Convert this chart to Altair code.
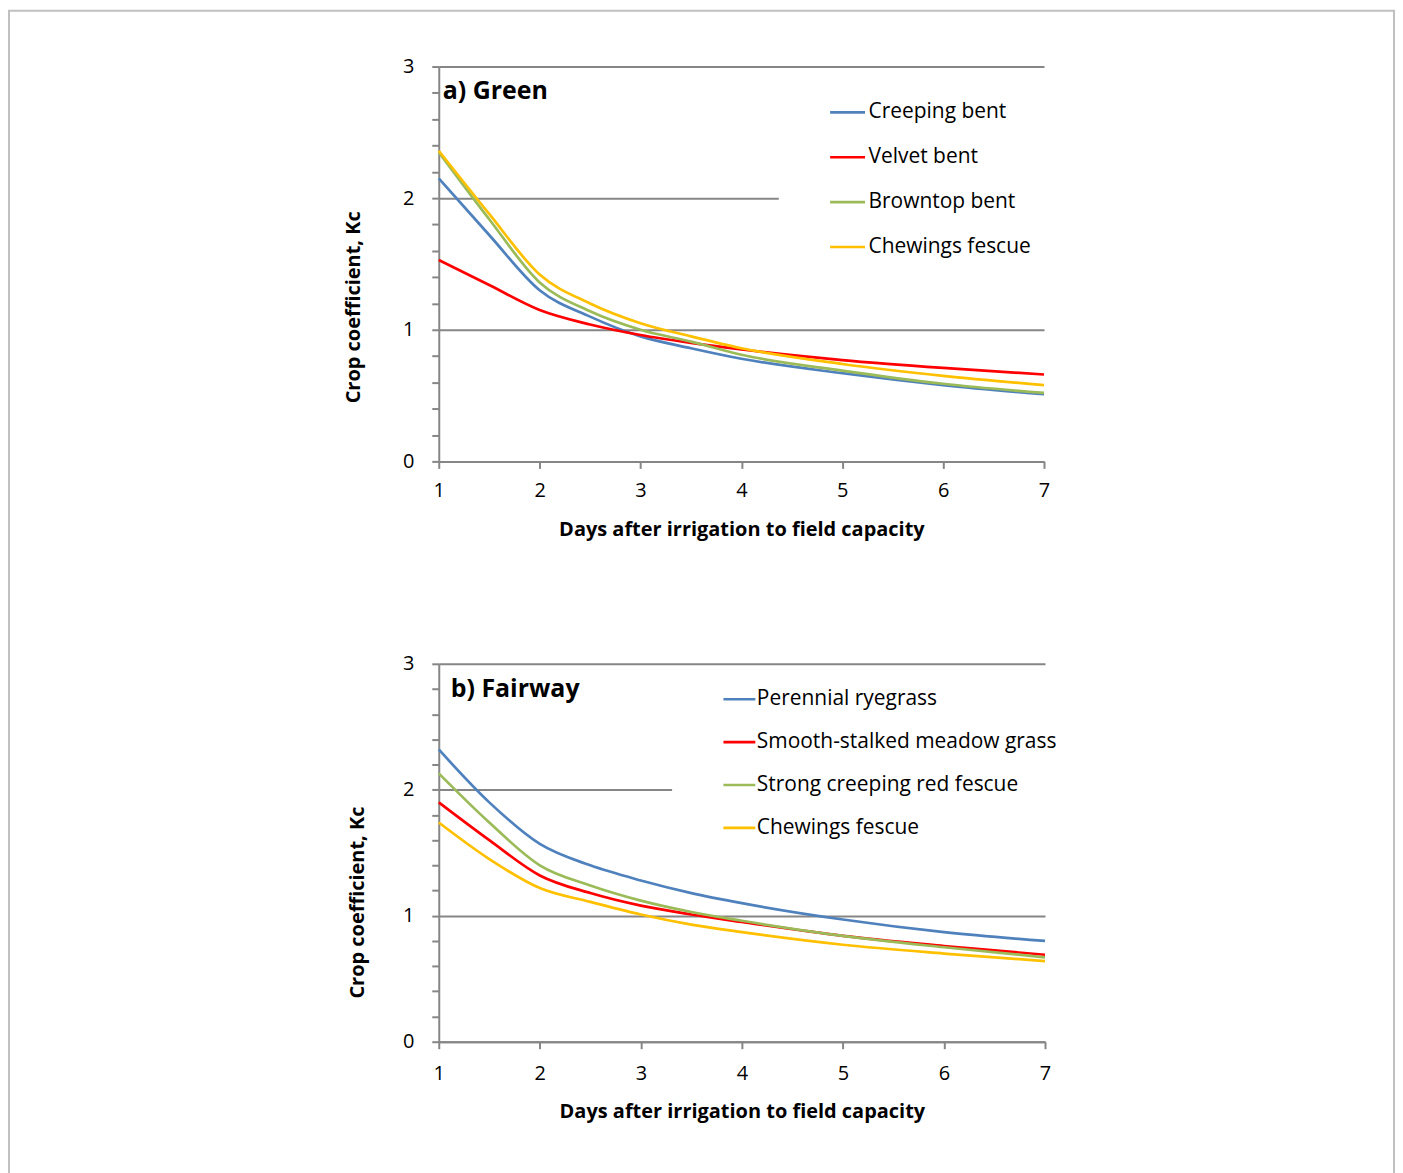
import altair as alt
import pandas as pd

# ---------------- data ----------------
days = [1, 1.5, 2, 2.5, 3, 3.5, 4, 5, 6, 7]

green_species = ["Creeping bent", "Velvet bent", "Browntop bent", "Chewings fescue"]
creeping_bent = [2.15, 1.72, 1.30, 1.10, 0.95, 0.86, 0.78, 0.67, 0.58, 0.51]
velvet_bent = [1.53, 1.34, 1.15, 1.04, 0.96, 0.90, 0.85, 0.77, 0.71, 0.66]
browntop_bent = [2.35, 1.84, 1.36, 1.14, 1.00, 0.91, 0.81, 0.69, 0.59, 0.52]
chewings_green = [2.36, 1.88, 1.42, 1.20, 1.05, 0.95, 0.86, 0.74, 0.65, 0.58]

fairway_species = ["Perennial ryegrass", "Smooth-stalked meadow grass",
                   "Strong creeping red fescue", "Chewings fescue"]
perennial_ryegrass = [2.32, 1.90, 1.57, 1.40, 1.28, 1.18, 1.10, 0.97, 0.87, 0.80]
smooth_stalked = [1.90, 1.60, 1.32, 1.18, 1.08, 1.01, 0.95, 0.84, 0.76, 0.69]
strong_creeping = [2.13, 1.74, 1.40, 1.24, 1.12, 1.03, 0.96, 0.84, 0.75, 0.67]
chewings_fairway = [1.74, 1.45, 1.22, 1.11, 1.01, 0.93, 0.87, 0.77, 0.70, 0.64]

x_ticks = [1, 2, 3, 4, 5, 6, 7]
y_ticks = [0, 0.2, 0.4, 0.6, 0.8, 1, 1.2, 1.4, 1.6, 1.8, 2,
           2.2, 2.4, 2.6, 2.8, 3]
colors = ["#4F81BD", "#FF0000", "#9BBB59", "#FFC000"]

x_title = "Days after irrigation to field capacity"
y_title = "Crop coefficient, Kc"


def long_df(species, series):
    rows = []
    for name, vals in zip(species, series):
        for d, v in zip(days, vals):
            rows.append({"species": name, "day": d, "kc": v})
    return pd.DataFrame(rows)


df_a = long_df(green_species, [creeping_bent, velvet_bent, browntop_bent, chewings_green])
df_b = long_df(fairway_species, [perennial_ryegrass, smooth_stalked, strong_creeping, chewings_fairway])

FONT = "Open Sans"
GRAY = "#868686"


def panel(df, species, label, label_x, w, h, ytx, yty, xty, xlp,
          lx, ly, lpad, symsize, rowpad, loff):
    x_axis = alt.Axis(values=x_ticks, title=x_title,
                      grid=False, domainColor=GRAY, domainWidth=2,
                      tickColor=GRAY, tickWidth=2, tickSize=7,
                      labelFont=FONT, labelFontSize=20, labelColor="black", labelPadding=xlp,
                      labelFlush=False,
                      titleFont=FONT, titleFontSize=20, titleFontWeight="bold", titleColor="black",
                      titleX=w / 2, titleY=xty, titleBaseline="middle", titleAlign="center")
    y_axis = alt.Axis(values=y_ticks, title=y_title,
                      labelExpr="round(datum.value) == datum.value ? format(datum.value, 'd') : ''",
                      grid=True, gridColor=GRAY, gridWidth=2,
                      gridOpacity={"condition": {"test": "round(datum.value) == datum.value", "value": 1},
                                   "value": 0},
                      domainColor=GRAY, domainWidth=2,
                      tickColor=GRAY, tickWidth=2, tickSize=7,
                      labelFont=FONT, labelFontSize=20, labelColor="black", labelPadding=18,
                      titleFont=FONT, titleFontSize=20, titleFontWeight="bold", titleColor="black",
                      titleX=ytx, titleY=yty, titleAngle=270, titleAlign="center",
                      titleBaseline="middle")
    legend = alt.Legend(orient="none", legendX=lx, legendY=ly, title=None,
                        symbolType="stroke", symbolSize=symsize, symbolStrokeWidth=2.6,
                        symbolOffset=50 - lpad, labelOffset=loff, rowPadding=rowpad,
                        labelFont=FONT, labelFontSize=21, labelColor="black",
                        fillColor="white", padding=lpad, labelLimit=500)
    lines = alt.Chart(df).mark_line(interpolate="monotone", strokeWidth=2.7).encode(
        x=alt.X("day:Q", scale=alt.Scale(domain=[1, 7], nice=False, zero=False), axis=x_axis),
        y=alt.Y("kc:Q", scale=alt.Scale(domain=[0, 3], nice=False), axis=y_axis),
        color=alt.Color("species:N", scale=alt.Scale(domain=species, range=colors),
                        sort=species, legend=legend),
        detail="species:N",
    )
    title = alt.Chart(pd.DataFrame({"t": [label]})).mark_text(
        align="left", baseline="middle", font=FONT, fontSize=25, fontWeight="bold", color="black"
    ).encode(text="t:N", x=alt.value(label_x), y=alt.value(25))
    return lines, title, w, h


la, ta, wa, ha = panel(df_a, green_species, "a) Green", 4, 607, 396, -85, 241, 68, 12,
                       341, 12, 15, 1225, 16, 2)
lb, tb, wb, hb = panel(df_b, fairway_species, "b) Fairway", 12, 608, 379, -81, 239, 70, 15,
                       234, 12, 6, 1024, 15, 0)

border = alt.Chart(pd.DataFrame({"b": [0]})).mark_rect(
    fillOpacity=0, stroke="#C0C0C0", strokeWidth=2, clip=False
).encode(x=alt.value(-431), x2=alt.value(958), y=alt.value(-56), y2=alt.value(1118))

chart_a = alt.layer(border, la, ta).properties(width=wa, height=ha)
chart_b = alt.layer(lb, tb).properties(width=wb, height=hb)

chart = alt.vconcat(chart_a, chart_b, spacing=203, bounds="flush").resolve_scale(
    color="independent"
).properties(padding=0, background="white").configure_view(strokeWidth=0)

chart.save("out.html", embed_options={"renderer": "svg", "actions": False})
